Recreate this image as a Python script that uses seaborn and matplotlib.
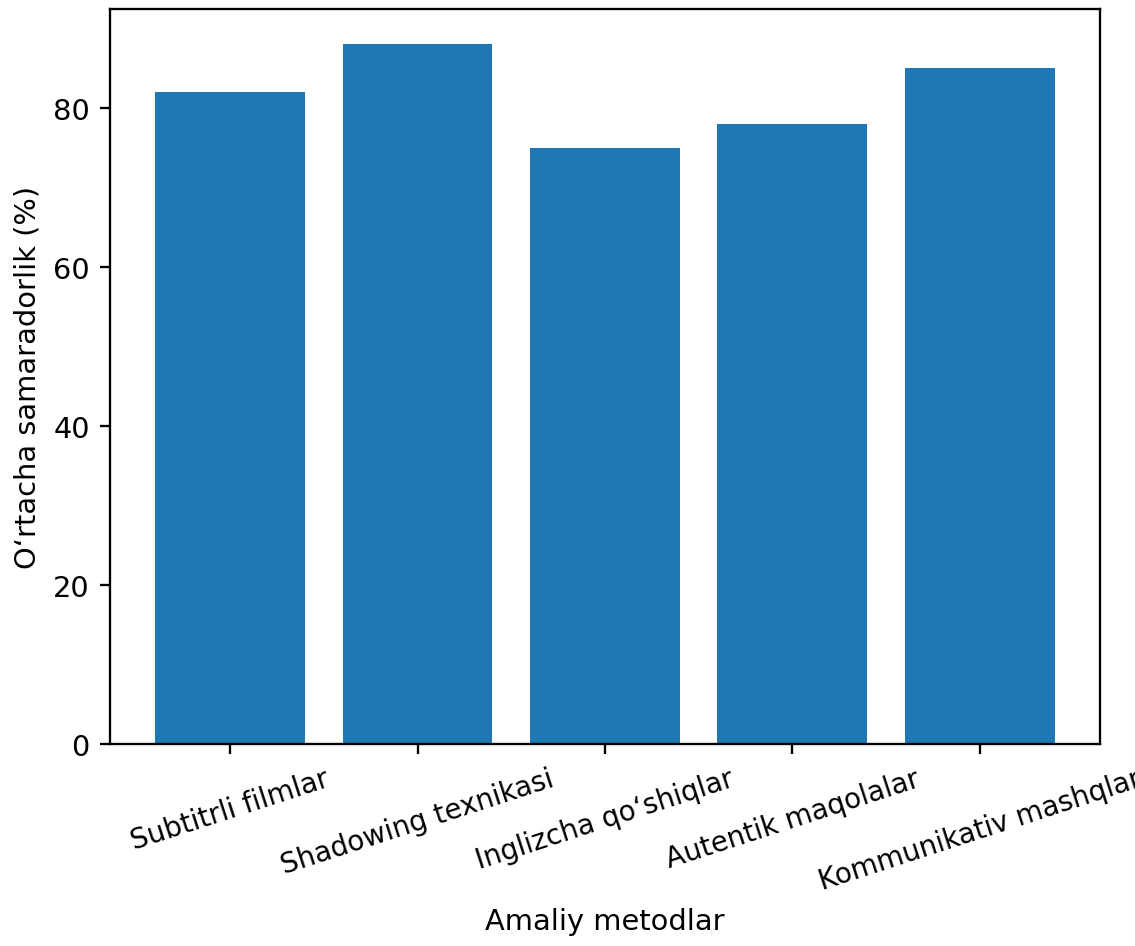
import pandas as pd
import matplotlib
matplotlib.use('Agg')
import matplotlib.pyplot as plt
import seaborn as sns

# data
methods = ['Subtitrli filmlar', 'Shadowing texnikasi', 'Inglizcha qoʻshiqlar',
           'Autentik maqolalar', 'Kommunikativ mashqlar']
scores = [82, 88, 75, 78, 85]

df = pd.DataFrame({'metod': methods, 'samaradorlik': scores})

dpi = 208
fig = plt.figure(figsize=(1135 / dpi, 947 / dpi), dpi=dpi)
ax = fig.add_axes([0.097, 0.213, 0.872, 0.776])
sns.barplot(x='metod', y='samaradorlik', data=df, color='#1f77b4',
            saturation=1, width=0.8, ax=ax)
ax.set_xlim(-0.64, 4.64)
ax.set_ylim(0, 92.4)
ax.set_xlabel('Amaliy metodlar')
ax.set_ylabel('Oʻrtacha samaradorlik (%)')
plt.xticks(rotation=18, fontsize=9.6)
fig.savefig('out.png', dpi=dpi)
